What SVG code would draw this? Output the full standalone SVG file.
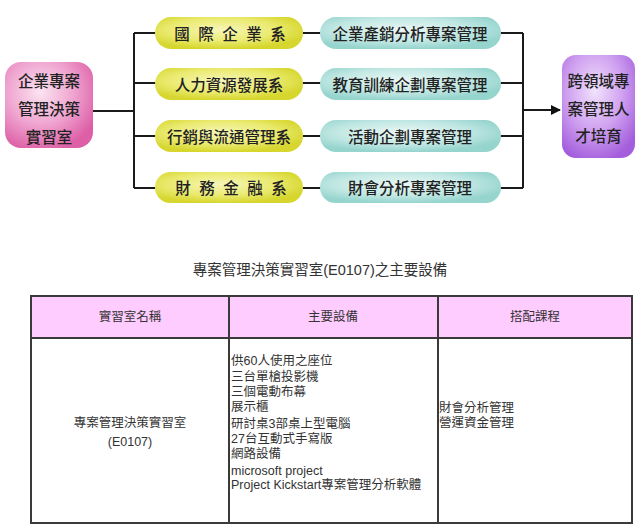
<svg xmlns="http://www.w3.org/2000/svg" width="640" height="532" viewBox="0 0 640 532">
<defs>
<radialGradient id="gPink" cx="0.4" cy="0.35" r="0.7">
<stop offset="0" stop-color="#FBE4F1"/>
<stop offset="0.55" stop-color="#EFA3CF"/>
<stop offset="1" stop-color="#DD5FA6"/>
</radialGradient>
<radialGradient id="gPurple" cx="0.45" cy="0.35" r="0.7">
<stop offset="0" stop-color="#F1E2FB"/>
<stop offset="0.55" stop-color="#CFA0F0"/>
<stop offset="1" stop-color="#A45EDC"/>
</radialGradient>
<radialGradient id="gYellow" cx="0.45" cy="0.4" r="0.6">
<stop offset="0" stop-color="#F6F6B8"/>
<stop offset="0.6" stop-color="#EAEA70"/>
<stop offset="1" stop-color="#D6D62E"/>
</radialGradient>
<radialGradient id="gTeal" cx="0.45" cy="0.4" r="0.6">
<stop offset="0" stop-color="#EAF7F5"/>
<stop offset="0.6" stop-color="#C2E8E4"/>
<stop offset="1" stop-color="#96D4CE"/>
</radialGradient>
<marker id="arrow" markerWidth="10" markerHeight="10" refX="9" refY="5" orient="auto" markerUnits="userSpaceOnUse">
<path d="M0,0 L10,5 L0,10 Z" fill="#111"/>
</marker>
</defs>
<style>
.lbl{font-family:"Noto Sans CJK TC","Noto Sans CJK SC",sans-serif;font-size:15.5px;font-weight:500;fill:#222;text-anchor:middle;dominant-baseline:central}
.sp{word-spacing:5px}
.conn{stroke:#1a1a1a;stroke-width:2;fill:none}
.title{font-family:"Liberation Sans","Noto Sans CJK TC",sans-serif;font-size:14.5px;fill:#333;text-anchor:middle;dominant-baseline:central}
.cell{font-family:"Liberation Sans","Noto Sans CJK TC",sans-serif;font-size:12.5px;fill:#333;dominant-baseline:central}
.mid{text-anchor:middle}
.tb{stroke:#3a3a3a;stroke-width:2}
</style>

<g id="connectors">
<path class="conn" d="M93,111 H134 M134,33 V188 M134,33 H156 M134,83 H156 M134,136 H156 M134,188 H156"/>
<path class="conn" d="M302,33 H321 M302,83 H321 M302,136 H321 M302,188 H321"/>
<path class="conn" d="M500,33 H523 M500,83 H523 M500,136 H523 M500,188 H523 M523,33 V188"/>
<path class="conn" d="M523,110 H560" marker-end="url(#arrow)"/>
</g>

<g id="lab">
<rect x="5" y="62" width="88" height="86" rx="16" fill="url(#gPink)"/>
<text class="lbl" x="49" y="80">企業專案</text>
<text class="lbl" x="49" y="108">管理決策</text>
<text class="lbl" x="49" y="136">實習室</text>
</g>

<g id="dept1"><rect x="155" y="17" width="148" height="32" rx="16" fill="url(#gYellow)"/><text class="lbl sp" x="230" y="33">國 際 企 業 系</text></g>
<g id="dept2"><rect x="155" y="68" width="148" height="32" rx="16" fill="url(#gYellow)"/><text class="lbl" x="229" y="84">人力資源發展系</text></g>
<g id="dept3"><rect x="155" y="120" width="148" height="32" rx="16" fill="url(#gYellow)"/><text class="lbl" x="229" y="136">行銷與流通管理系</text></g>
<g id="dept4"><rect x="155" y="172" width="148" height="31" rx="15.5" fill="url(#gYellow)"/><text class="lbl sp" x="231" y="187">財 務 金 融 系</text></g>

<g id="proj1"><rect x="320" y="17" width="181" height="32" rx="16" fill="url(#gTeal)"/><text class="lbl" x="410" y="33">企業產銷分析專案管理</text></g>
<g id="proj2"><rect x="320" y="68" width="181" height="32" rx="16" fill="url(#gTeal)"/><text class="lbl" x="410" y="84">教育訓練企劃專案管理</text></g>
<g id="proj3"><rect x="320" y="120" width="181" height="32" rx="16" fill="url(#gTeal)"/><text class="lbl" x="410" y="136">活動企劃專案管理</text></g>
<g id="proj4"><rect x="320" y="172" width="181" height="31" rx="15.5" fill="url(#gTeal)"/><text class="lbl" x="410" y="187">財會分析專案管理</text></g>

<g id="talent">
<rect x="562" y="55" width="73" height="103" rx="14" fill="url(#gPurple)"/>
<text class="lbl" x="598.5" y="80">跨領域專</text>
<text class="lbl" x="598.5" y="108">案管理人</text>
<text class="lbl" x="598.5" y="135">才培育</text>
</g>

<g id="table">
<text class="title" x="320" y="270">專案管理決策實習室(E0107)之主要設備</text>
<rect x="31" y="296" width="601" height="42" fill="#FFCCFF"/>
<rect x="31" y="296" width="601" height="227" fill="none" class="tb"/>
<line class="tb" x1="31" y1="338" x2="632" y2="338"/>
<line class="tb" x1="229" y1="296" x2="229" y2="523"/>
<line class="tb" x1="438" y1="296" x2="438" y2="523"/>
<text class="cell mid" x="130" y="317">實習室名稱</text>
<text class="cell mid" x="333" y="317">主要設備</text>
<text class="cell mid" x="535" y="317">搭配課程</text>
<text class="cell mid" x="130" y="423">專案管理決策實習室</text>
<text class="cell mid" x="130" y="442">(E0107)</text>
<text class="cell" x="231" y="361">供60人使用之座位</text>
<text class="cell" x="231" y="377">三台單槍投影機</text>
<text class="cell" x="231" y="392">三個電動布幕</text>
<text class="cell" x="231" y="407">展示櫃</text>
<text class="cell" x="231" y="424">研討桌3部桌上型電腦</text>
<text class="cell" x="231" y="439">27台互動式手寫版</text>
<text class="cell" x="231" y="454">網路設備</text>
<text class="cell" x="231" y="471">microsoft project</text>
<text class="cell" x="231" y="485">Project Kickstart專案管理分析軟體</text>
<text class="cell" x="439" y="408">財會分析管理</text>
<text class="cell" x="439" y="423">營運資金管理</text>
</g>
</svg>
